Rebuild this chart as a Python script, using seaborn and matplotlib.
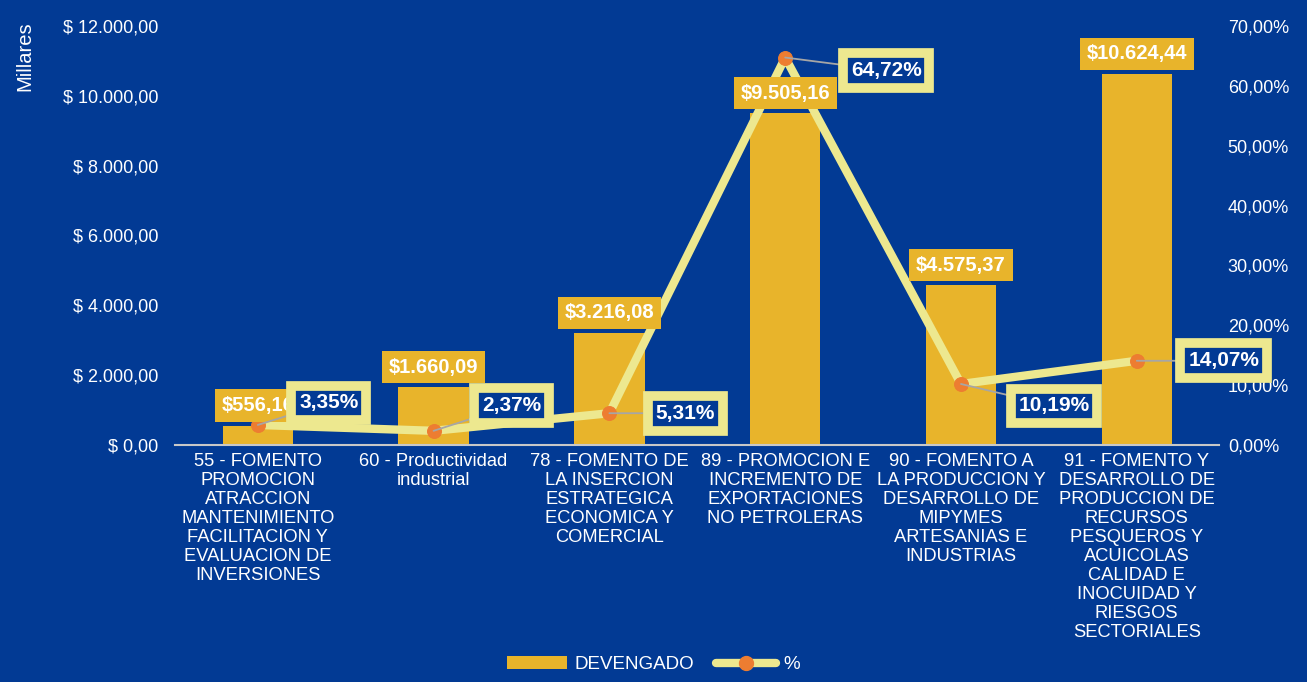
import numpy as np
import pandas as pd
import matplotlib
matplotlib.use("Agg")
import matplotlib.pyplot as plt
import seaborn as sns
from matplotlib.patches import Patch
from matplotlib.lines import Line2D
from matplotlib.ticker import FuncFormatter

# data
categories = [
    "55 - FOMENTO\nPROMOCION\nATRACCION\nMANTENIMIENTO\nFACILITACION Y\nEVALUACION DE\nINVERSIONES",
    "60 - Productividad\nindustrial",
    "78 - FOMENTO DE\nLA INSERCION\nESTRATEGICA\nECONOMICA Y\nCOMERCIAL",
    "89 - PROMOCION E\nINCREMENTO DE\nEXPORTACIONES\nNO PETROLERAS",
    "90 - FOMENTO A\nLA PRODUCCION Y\nDESARROLLO DE\nMIPYMES\nARTESANIAS E\nINDUSTRIAS",
    "91 - FOMENTO Y\nDESARROLLO DE\nPRODUCCION DE\nRECURSOS\nPESQUEROS Y\nACUICOLAS\nCALIDAD E\nINOCUIDAD Y\nRIESGOS\nSECTORIALES",
]
devengado = [556.16, 1660.09, 3216.08, 9505.16, 4575.37, 10624.44]
porcentaje = [3.35, 2.37, 5.31, 64.72, 10.19, 14.07]

BG = "#023A94"
GOLD = "#E8B42B"
PALE = "#EDE88F"
ORANGE = "#ED7D31"

sns.set_theme(style="white")
plt.rcParams["font.family"] = ["Liberation Sans", "DejaVu Sans"]

def es_num(v, dec=2):
    s = f"{v:,.{dec}f}"
    return s.replace(",", "X").replace(".", ",").replace("X", ".")

df = pd.DataFrame({"cat": categories, "dev": devengado, "pct": porcentaje})

fig = plt.figure(figsize=(13.07, 6.82), dpi=100, facecolor=BG)
ax = fig.add_axes([0.134, 0.3475, 0.799, 0.6145])
ax.set_facecolor(BG)

sns.barplot(data=df, x="cat", y="dev", color=GOLD, width=0.4, saturation=1,
            edgecolor="none", linewidth=0, ax=ax)
ax.set_ylim(0, 12000)
ax.set_yticks(np.arange(0, 12001, 2000))
ax.yaxis.set_major_formatter(FuncFormatter(lambda v, p: "$ " + es_num(v)))
ax.set_xlabel("")
ax.set_ylabel("")
ax.tick_params(axis="y", colors="white", labelsize=13, length=0, pad=12)
ax.tick_params(axis="x", colors="white", labelsize=13.2, length=0, pad=6)
for lab in ax.get_xticklabels():
    lab.set_linespacing(1.15)
for s in ["top", "right", "left"]:
    ax.spines[s].set_visible(False)
ax.spines["bottom"].set_color("#C8C8C8")
ax.spines["bottom"].set_linewidth(1.5)

ax2 = ax.twinx()
ax2.set_ylim(0, 70)
ax2.set_yticks(np.arange(0, 71, 10))
ax2.yaxis.set_major_formatter(FuncFormatter(lambda v, p: es_num(v) + "%"))
ax2.tick_params(axis="y", colors="white", labelsize=13, length=0, pad=6)
for s in ax2.spines.values():
    s.set_visible(False)
sns.lineplot(x=np.arange(len(porcentaje)), y=porcentaje, ax=ax2, color=PALE,
             linewidth=6, marker="o", markersize=10, markerfacecolor=ORANGE,
             markeredgecolor=ORANGE, zorder=3)
ax2.set_ylabel("")
ax2.set_xlim(ax.get_xlim())

# bar value labels
for i, v in enumerate(devengado):
    ax2.annotate("$" + es_num(v), xy=(i, v), xycoords=ax.transData,
                 xytext=(0, 20), textcoords="offset pixels", ha="center", va="center",
                 color="white", fontsize=14.5, fontweight="bold", zorder=5,
                 bbox=dict(boxstyle="square,pad=0.33", fc=GOLD, ec="none"))

# percent labels with leader lines
offsets = [(71, 22), (78, 25), (76, 0), (101, -13), (93, -22), (87, 0)]
for i, (v, off) in enumerate(zip(porcentaje, offsets)):
    ax2.annotate(es_num(v) + "%", xy=(i, v), xytext=off, textcoords="offset pixels",
                 ha="center", va="center", color="white", fontsize=15,
                 fontweight="bold", zorder=6,
                 bbox=dict(boxstyle="square,pad=0.38", fc=BG, ec=PALE, lw=7),
                 arrowprops=dict(arrowstyle="-", color="#A6A6A6", lw=1.3,
                                 shrinkA=0, shrinkB=0))

fig.text(0.012, 0.968, "Millares", rotation=90, va="top", ha="left",
         color="white", fontsize=14.5)

handles = [Patch(facecolor=GOLD, edgecolor="none"),
           Line2D([0], [0], color=PALE, lw=6, marker="o", markersize=10,
                  markerfacecolor=ORANGE, markeredgecolor=ORANGE)]
leg = fig.legend(handles, ["DEVENGADO", "%"], loc="lower center",
                 bbox_to_anchor=(0.5, -0.012), ncol=2, frameon=False,
                 fontsize=13.5, handlelength=3.2, columnspacing=1.2, handletextpad=0.4)
for t in leg.get_texts():
    t.set_color("white")

fig.savefig("out.png", dpi=100, facecolor=BG)
